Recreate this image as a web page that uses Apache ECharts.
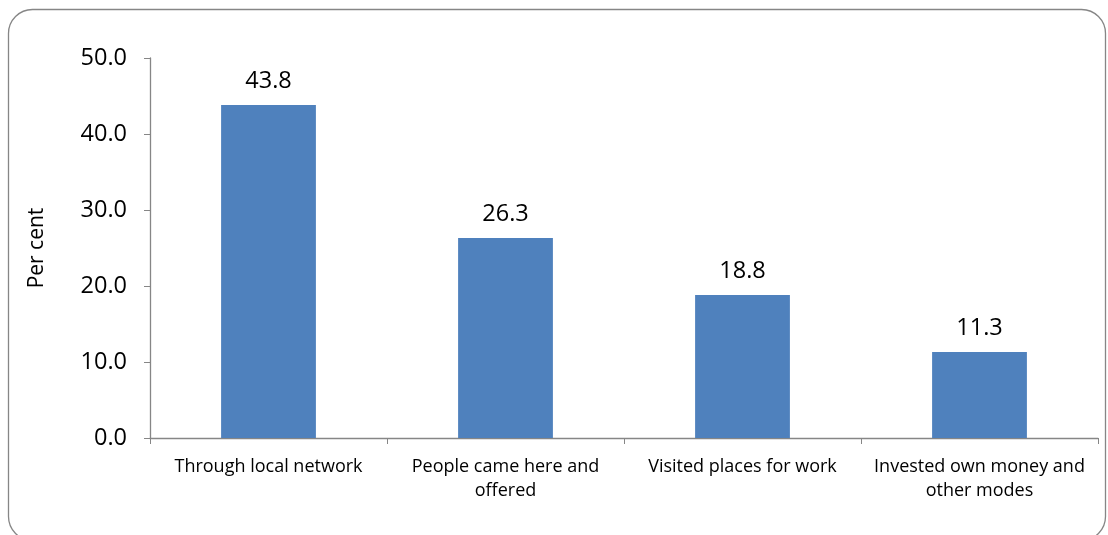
<!DOCTYPE html>
<html><head><meta charset="utf-8">
<style>html,body{margin:0;padding:0;background:#fff}#c{width:1108px;height:535px}</style>
<script src="https://cdn.jsdelivr.net/npm/echarts@6/dist/echarts.min.js"></script>
</head><body><div id="c"></div>
<script>
const categories = ['Through local network', 'People came here and\noffered', 'Visited places for work', 'Invested own money and\nother modes'];
const values = [43.8, 26.3, 18.8, 11.3];
const yTicks = { min: 0, max: 50, interval: 10 };
const yName = 'Per cent';

const FONT = 'Open Sans';
const chart = echarts.init(document.getElementById('c'), null, { renderer: 'canvas' });
chart.setOption({
  backgroundColor: '#fff',
  animation: false,
  graphic: [{
    type: 'rect', shape: { x: 8.5, y: 9.5, width: 1097, height: 531, r: 24 },
    style: { fill: 'none', stroke: '#868686', lineWidth: 1.3 }, silent: true, z: -1
  }],
  grid: { left: 150, right: 10, top: 58, bottom: 97, containLabel: false },
  xAxis: {
    type: 'category', data: categories,
    axisLine: { lineStyle: { color: '#868686', width: 1.3 } },
    axisTick: { show: true, alignWithLabel: false, length: 6, lineStyle: { color: '#868686' } },
    axisLabel: { fontFamily: FONT, fontSize: 18, color: '#000', margin: 17, lineHeight: 24, interval: 0 }
  },
  yAxis: {
    type: 'value', min: yTicks.min, max: yTicks.max, interval: yTicks.interval,
    name: yName, nameLocation: 'middle', nameGap: 102, nameRotate: 90,
    nameTextStyle: { fontFamily: FONT, fontSize: 21, color: '#000' },
    axisLine: { show: true, lineStyle: { color: '#868686', width: 1.3 } },
    axisTick: { show: true, length: 6, lineStyle: { color: '#868686' } },
    splitLine: { show: false },
    axisLabel: { fontFamily: FONT, fontSize: 23.5, color: '#000', margin: 23, formatter: v => v.toFixed(1) }
  },
  series: [{
    type: 'bar', data: values, barWidth: '40%',
    itemStyle: { color: '#4F81BD' },
    label: { show: true, position: 'top', distance: 12, fontFamily: FONT, fontSize: 23.5, color: '#000', formatter: p => p.value.toFixed(1) }
  }]
});
</script></body></html>
